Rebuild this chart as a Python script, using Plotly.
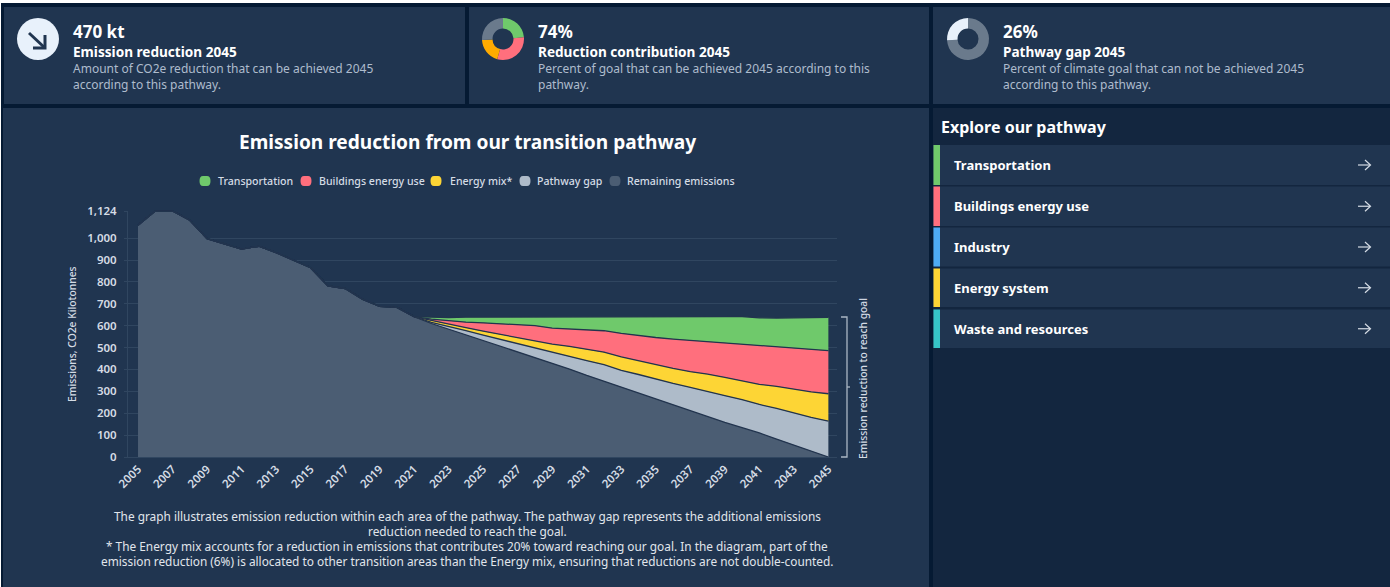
import plotly.graph_objects as go

W, H = 1390, 587
FONT = "Noto Sans"

years = list(range(2005, 2046))
future_years = list(range(2021, 2046))
remaining = [1059, 1124, 1124, 1082, 998, 975, 950, 963, 934, 900, 865, 782, 770, 721, 688, 684,
             641, 610, 584, 559, 533, 507, 481, 455, 428, 402, 373, 346, 318, 291, 265, 237, 212,
             184, 158, 134, 110, 82, 55, 27, 0]
pathway_gap = [0, 5, 13, 18, 24, 30, 36, 43, 50, 58, 67, 76, 78, 86, 91, 99, 106, 114, 122, 128, 130, 140, 146, 154, 164]
energy_mix = [0, 9, 9, 14, 18, 23, 28, 35, 38, 45, 52, 57, 62, 63, 67, 69, 72, 81, 84, 85, 92, 101, 108, 117, 125]
buildings = [0, 6, 17, 25, 38, 49, 61, 67, 73, 81, 89, 98, 107, 114, 123, 134, 143, 148, 158, 167, 175, 178, 187, 191, 197]
transport = [0, 9, 14, 23, 26, 31, 34, 40, 50, 54, 59, 62, 73, 84, 92, 99, 105, 112, 119, 128, 129, 134, 140, 146, 152]

x_ticks = list(range(2005, 2046, 2))
y_ticks = [0, 100, 200, 300, 400, 500, 600, 700, 800, 900, 1000, 1124]
y_tick_labels = ["0", "100", "200", "300", "400", "500", "600", "700", "800", "900", "1,000", "1,124"]

contribution_labels = ["Transportation", "Buildings energy use", "Energy mix", "Pathway gap"]
contribution_values = [24, 31, 20, 26]
gap_labels = ["Achieved", "Pathway gap"]
gap_values = [74, 26]

legend_names = ["Transportation", "Buildings energy use", "Energy mix*", "Pathway gap", "Remaining emissions"]
explore_items = ["Transportation", "Buildings energy use", "Industry", "Energy system", "Waste and resources"]

C_TRANSPORT, C_BUILD, C_MIX, C_GAP, C_REMAIN = "#6fc96b", "#ff6f7d", "#fdd535", "#aebbc9", "#4b5d73"
C_BG, C_CARD, C_PANEL, C_LINE = "#051a33", "#203550", "#13263f", "#22344e"
C_ITEM = [C_TRANSPORT, C_BUILD, "#4dabf5", C_MIX, "#36c5c8"]
C_GRID = "#304660"


def px(x):
    return x / W


def py(y):
    return 1 - y / H


shapes = []
annots = []


def rect(x0, y0, x1, y1, color):
    shapes.append(dict(type="rect", xref="paper", yref="paper", x0=px(x0), x1=px(x1), y0=py(y0), y1=py(y1),
                       fillcolor=color, line_width=0, layer="below"))


def stroke(points, color, width):
    path = "M " + " L ".join(f"{px(a):.5f} {py(b):.5f}" for a, b in points)
    shapes.append(dict(type="path", xref="paper", yref="paper", path=path, line=dict(color=color, width=width), layer="above"))


def text(x, y, s, size, color="#ffffff", bold=False, anchor="left", angle=0, weight=None):
    if anchor == "left":
        x -= 2
    font = dict(family=FONT, size=size, color=color)
    if weight:
        font["weight"] = weight
    annots.append(dict(xref="paper", yref="paper", x=px(x), y=py(y), text=f"<b>{s}</b>" if bold else s,
                       showarrow=False, xanchor=anchor, yanchor="middle", textangle=angle, font=font))


# page and panels
rect(1, 3, W, H, C_BG)
for a, b in [(4, 465), (469, 929), (933, W)]:
    rect(a, 7, b, 104, C_CARD)
rect(3, 108, 929, H, C_CARD)
rect(933, 108, W, H, C_PANEL)

# KPI cards
cards = [
    (73, "470 kt", "Emission reduction 2045", ["Amount of CO2e reduction that can be achieved 2045", "according to this pathway."]),
    (538, "74%", "Reduction contribution 2045", ["Percent of goal that can be achieved 2045 according to this", "pathway."]),
    (1003, "26%", "Pathway gap 2045", ["Percent of climate goal that can not be achieved 2045", "according to this pathway."]),
]
for x, big, head, lines in cards:
    text(x, 31, big, 17, bold=True)
    text(x, 52, head, 13.6, bold=True)
    text(x, 69, lines[0], 12, "#aebccd")
    text(x, 84, lines[1], 12, "#aebccd")

# arrow icon
shapes.append(dict(type="circle", xref="paper", yref="paper", x0=px(17), x1=px(59), y0=py(60), y1=py(18),
                   fillcolor="#e8f1fb", line_width=0, layer="below"))
stroke([(29, 33), (45, 48)], C_CARD, 3)
stroke([(33, 48), (45, 48), (45, 35)], C_CARD, 3)

# chart heading, legend, footnotes
text(467, 142, "Emission reduction from our transition pathway", 19.1, bold=True, anchor="center")
legend_x = [(205, 218), (306, 319), (436, 450), (525, 537), (615, 627)]
legend_c = [C_TRANSPORT, C_BUILD, C_MIX, C_GAP, C_REMAIN]
for (mx, tx), c, name in zip(legend_x, legend_c, legend_names):
    shapes.append(dict(type="path", xref="paper", yref="paper", layer="below", fillcolor=c, line_width=0,
                       path=(f"M {px(mx-2):.5f} {py(176):.5f} L {px(mx+2):.5f} {py(176):.5f} "
                             f"Q {px(mx+5.5):.5f} {py(176):.5f} {px(mx+5.5):.5f} {py(181):.5f} "
                             f"Q {px(mx+5.5):.5f} {py(186):.5f} {px(mx+2):.5f} {py(186):.5f} L {px(mx-2):.5f} {py(186):.5f} "
                             f"Q {px(mx-5.5):.5f} {py(186):.5f} {px(mx-5.5):.5f} {py(181):.5f} "
                             f"Q {px(mx-5.5):.5f} {py(176):.5f} {px(mx-2):.5f} {py(176):.5f} Z")))
    text(tx, 181, name, 10.6, "#d5dce5", weight=500)

foot = [
    (516, "The graph illustrates emission reduction within each area of the pathway. The pathway gap represents the additional emissions"),
    (531, "reduction needed to reach the goal."),
    (546, "* The Energy mix accounts for a reduction in emissions that contributes 20% toward reaching our goal. In the diagram, part of the"),
    (561, "emission reduction (6%) is allocated to other transition areas than the Energy mix, ensuring that reductions are not double-counted."),
]
for y, s in foot:
    text(467, y, s, 11.85, "#e1e6ec", anchor="center")

# axis title and goal bracket
text(72, 334, "Emissions, CO2e Kilotonnes", 10.3, "#d5dce5", anchor="center", angle=-90, weight=500)
b_top, b_bottom = 317, 457
stroke([(841, b_top), (847, b_top), (847, b_bottom), (841, b_bottom)], "#aab6c4", 1.3)
stroke([(847, 387), (850, 387)], "#aab6c4", 1.3)
text(863, 379, "Emission reduction to reach goal", 10.3, "#d5dce5", anchor="center", angle=-90, weight=500)

# explore list
text(941, 127, "Explore our pathway", 16, bold=True)
rows = [(145, 185), (186.5, 226), (227.5, 266.5), (268.5, 307), (309.5, 348)]
for (t, b), c, name in zip(rows, C_ITEM, explore_items):
    rect(933, t, W, b, C_CARD)
    rect(933.5, t, 940, b, c)
    m = (t + b) / 2
    text(954, m, name, 13, bold=True)
    stroke([(1358, m), (1370, m)], "#d5dce5", 1.2)
    stroke([(1365, m - 5), (1370.5, m), (1365, m + 5)], "#d5dce5", 1.2)

fig = go.Figure()
fig.add_trace(go.Scatter(x=years, y=remaining, name=legend_names[4], stackgroup="a", mode="lines",
                         line=dict(color=C_LINE, width=1.3), fillcolor=C_REMAIN))
for name, vals, col in [(legend_names[3], pathway_gap, C_GAP), (legend_names[2], energy_mix, C_MIX),
                        (legend_names[1], buildings, C_BUILD), (legend_names[0], transport, C_TRANSPORT)]:
    fig.add_trace(go.Scatter(x=future_years, y=vals, name=name, stackgroup="a", mode="lines",
                             line=dict(color=C_LINE, width=1.3), fillcolor=col))

fig.add_trace(go.Pie(labels=contribution_labels, values=contribution_values, hole=0.5, sort=False, direction="clockwise",
                     rotation=0, textinfo="none", marker=dict(colors=[C_TRANSPORT, C_BUILD, "#ffab00", "#6a7a8c"], line_width=0),
                     domain=dict(x=[px(482), px(524)], y=[py(60), py(18)]), showlegend=False))
fig.add_trace(go.Pie(labels=gap_labels, values=gap_values, hole=0.5, sort=False, direction="clockwise",
                     rotation=0, textinfo="none", marker=dict(colors=["#6a7a8c", "#e8f1fb"], line_width=0),
                     domain=dict(x=[px(947), px(989)], y=[py(60), py(18)]), showlegend=False))

tick_font = dict(size=11.5, color="#d5dce5", family=FONT, weight=600)
fig.update_layout(
    width=W, height=H, margin=dict(l=0, r=0, t=0, b=0, pad=0, autoexpand=False), autosize=False,
    paper_bgcolor="#ffffff", plot_bgcolor="rgba(0,0,0,0)", showlegend=False,
    shapes=shapes, annotations=annots, hovermode=False,
    font=dict(family=FONT, color="#d5dce5"),
    xaxis=dict(domain=[px(128), px(837)], range=[2004.42, 2045.5], tickmode="array", tickvals=x_ticks,
               ticktext=[str(t) for t in x_ticks], tickangle=-45, showgrid=False, zeroline=False, automargin=False,
               showline=True, linecolor=C_GRID, linewidth=1, ticks="", tickfont=tick_font),
    yaxis=dict(domain=[py(457), py(210.8)], range=[0, 1125], tickmode="array", tickvals=y_ticks, automargin=False,
               ticktext=y_tick_labels, showgrid=True, gridcolor=C_GRID, gridwidth=1, zeroline=False,
               showline=True, linecolor=C_GRID, linewidth=1, ticks="outside", ticklen=3, tickcolor=C_GRID,
               ticklabelstandoff=5, tickfont=tick_font),
)

fig.write_html("out.html", config={"displayModeBar": False, "responsive": False},
               post_script="document.body.style.margin='0';document.body.style.overflow='hidden';")
